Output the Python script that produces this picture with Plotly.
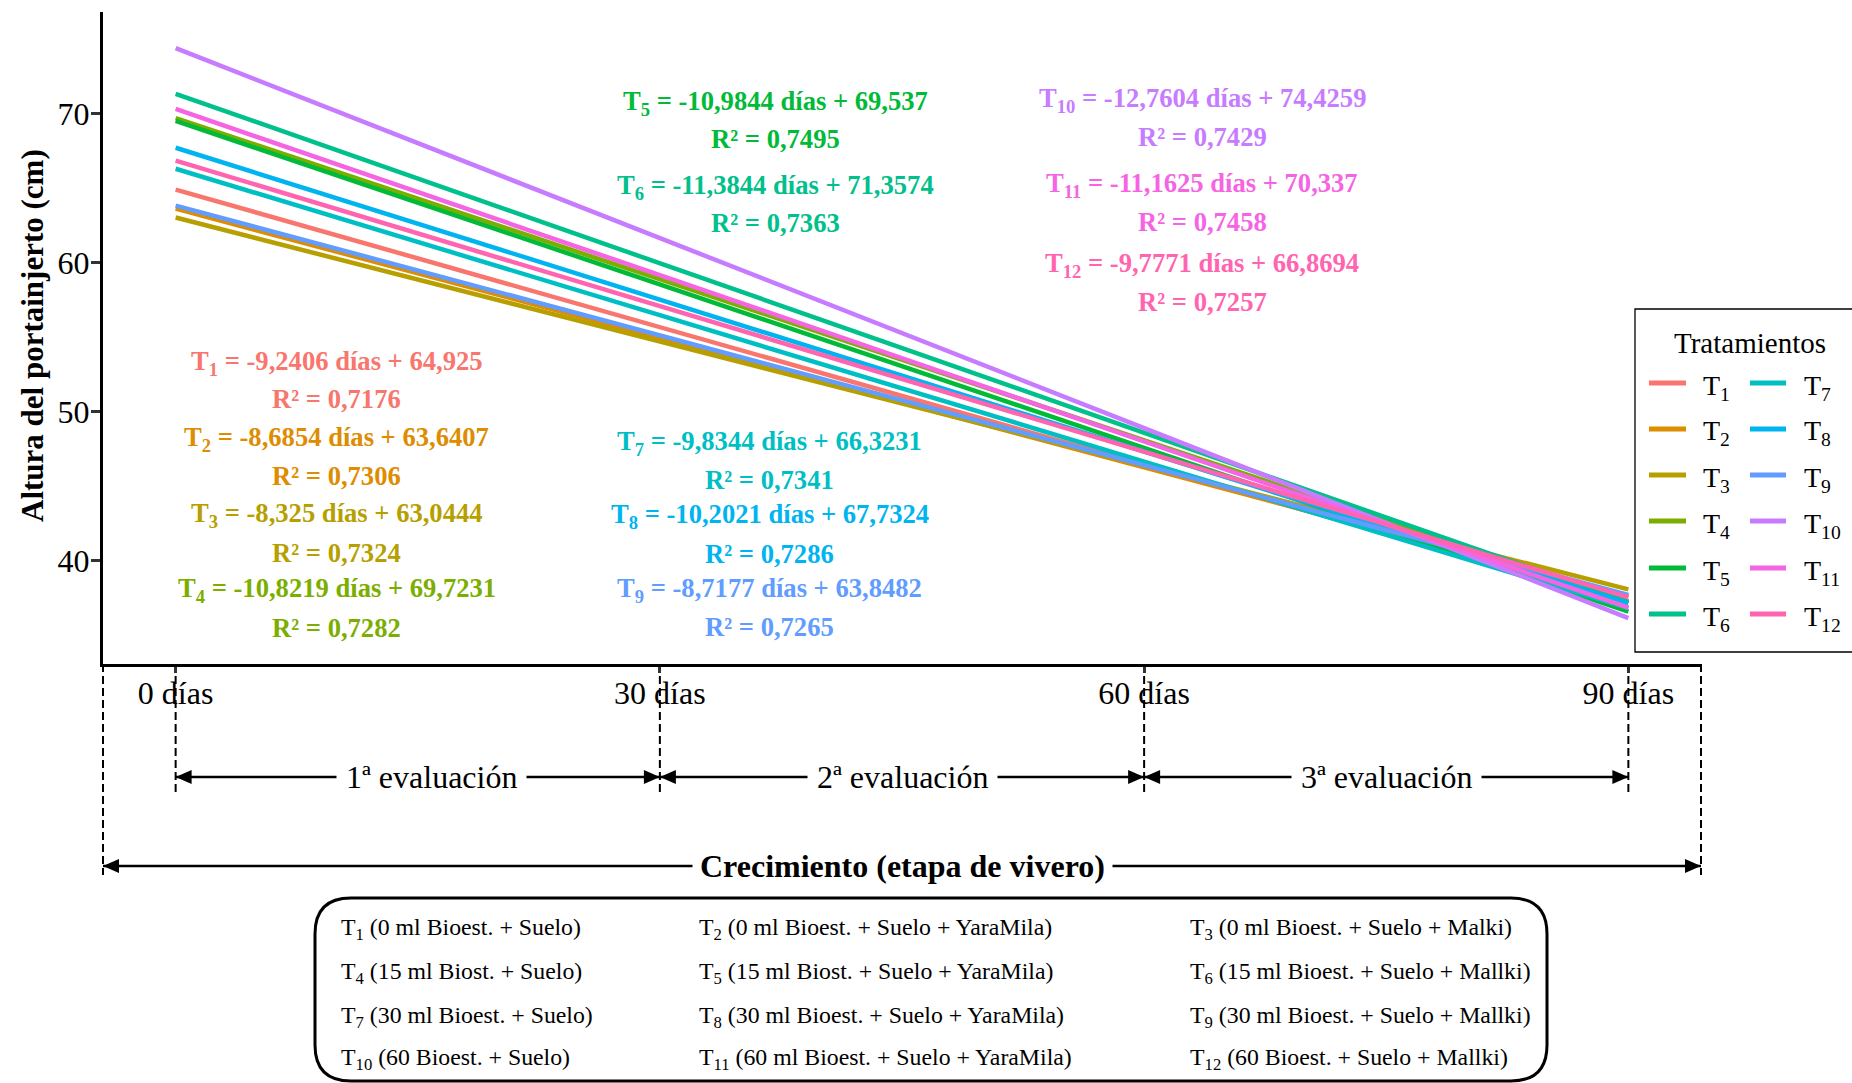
import plotly.graph_objects as go

# ---------------- data ----------------
treatment_ids = [1, 2, 3, 4, 5, 6, 7, 8, 9, 10, 11, 12]
slopes = [-9.2406, -8.6854, -8.325, -10.8219, -10.9844, -11.3844,
          -9.8344, -10.2021, -8.7177, -12.7604, -11.1625, -9.7771]
intercepts = [64.925, 63.6407, 63.0444, 69.7231, 69.537, 71.3574,
              66.3231, 67.7324, 63.8482, 74.4259, 70.337, 66.8694]
r_squared = [0.7176, 0.7306, 0.7324, 0.7282, 0.7495, 0.7363,
             0.7341, 0.7286, 0.7265, 0.7429, 0.7458, 0.7257]
eval_x = [0, 1, 2, 3]
tick_labels = ["0 días", "30 días", "60 días", "90 días"]
y_ticks = [40, 50, 60, 70]
eval_labels = ["1ª evaluación", "2ª evaluación", "3ª evaluación"]
descriptions = [
    "(0 ml Bioest. + Suelo)", "(0 ml Bioest. + Suelo + YaraMila)", "(0 ml Bioest. + Suelo + Malki)",
    "(15 ml Biost. + Suelo)", "(15 ml Biost. + Suelo + YaraMila)", "(15 ml Bioest. + Suelo + Mallki)",
    "(30 ml Bioest. + Suelo)", "(30 ml Bioest. + Suelo + YaraMila)", "(30 ml Bioest. + Suelo + Mallki)",
    "(60 Bioest. + Suelo)", "(60 ml Bioest. + Suelo + YaraMila)", "(60 Bioest. + Suelo + Mallki)",
]

# ---------------- styling ----------------
colors = ["#F8766D", "#DE8C00", "#B79F00", "#7CAE00", "#00BA38", "#00C08B",
          "#00BFC4", "#00B4F0", "#619CFF", "#C77CFF", "#F564E3", "#FF64B0"]
SERIF = "Liberation Serif"

W, H = 1852, 1083
L, R, T, B = 103, 1701, 12, 664          # plot area in pixels
x_range = [-0.15, 3.15]
y_range = [33.06, 76.85]


def xp(px):
    return (px - L) / (R - L)


def yp(py):
    return (B - py) / (B - T)


def x_to_px(x):
    return L + (x - x_range[0]) / (x_range[1] - x_range[0]) * (R - L)


def fmt(v):
    return repr(v).replace(".", ",")


fig = go.Figure()

# regression lines
for i, tid in enumerate(treatment_ids):
    fig.add_trace(go.Scatter(
        x=eval_x,
        y=[slopes[i] * x + intercepts[i] for x in eval_x],
        mode="lines",
        line=dict(color=colors[i], width=4.5),
        name=f"T{tid}",
        showlegend=False,
        hoverinfo="skip",
    ))

annotations = []
shapes = []

# equation labels (x, y of equation line, y of R² line) in data units
label_pos = [
    (0.3325, 53.30, 50.86), (0.3325, 48.17, 45.69), (0.3325, 43.07, 40.52), (0.3325, 38.00, 35.48),
    (1.238, 70.75, 68.29), (1.238, 65.12, 62.68),
    (1.2265, 47.90, 45.45), (1.2265, 43.00, 40.45), (1.2265, 38.00, 35.55),
    (2.12, 70.94, 68.45), (2.12, 65.21, 62.75), (2.12, 59.89, 57.37),
]
for i, tid in enumerate(treatment_ids):
    lx, ly_eq, ly_r2 = label_pos[i]
    font = dict(family=SERIF, size=26.6, color=colors[i], weight="bold")
    annotations.append(dict(
        x=lx, y=ly_eq, xref="x", yref="y", showarrow=False,
        text=f"T<sub>{tid}</sub> = {fmt(slopes[i])} días + {fmt(intercepts[i])}",
        font=font, xanchor="center", yanchor="middle"))
    annotations.append(dict(
        x=lx, y=ly_r2, xref="x", yref="y", showarrow=False,
        text=f"R² = {fmt(r_squared[i])}",
        font=font, xanchor="center", yanchor="middle"))

# y-axis title
annotations.append(dict(
    x=xp(32), y=yp(336), xref="paper", yref="paper", showarrow=False,
    text="Altura del portainjerto (cm)", textangle=-90,
    font=dict(family=SERIF, size=31, color="black", weight="bold"),
    xanchor="center", yanchor="middle"))

DASH = dict(color="black", width=2, dash="8px,4px")


def vline(px, y_top, y_bot):
    shapes.append(dict(type="line", xref="paper", yref="paper",
                       x0=xp(px), x1=xp(px), y0=yp(y_top), y1=yp(y_bot),
                       line=DASH, layer="below"))


def arrow_head(tip_px, y_px, direction, length=16, half=7):
    base = tip_px - direction * length
    path = (f"M {xp(tip_px)},{yp(y_px)} L {xp(base)},{yp(y_px - half)} "
            f"L {xp(base)},{yp(y_px + half)} Z")
    shapes.append(dict(type="path", xref="paper", yref="paper", path=path,
                       fillcolor="black", line=dict(width=0)))


def double_arrow(x0_px, x1_px, y_px, width=2.5):
    shapes.append(dict(type="line", xref="paper", yref="paper",
                       x0=xp(x0_px), x1=xp(x1_px), y0=yp(y_px), y1=yp(y_px),
                       line=dict(color="black", width=width)))
    arrow_head(x0_px, y_px, -1)
    arrow_head(x1_px, y_px, 1)


# dashed guides under the time axis
tick_px = [x_to_px(v) for v in eval_x]
for px in tick_px:
    vline(px, B, 796)
vline(L, B, 875)
vline(R, B, 875)

# evaluation periods
EVAL_Y = 777
eval_text_x = [431, 902, 1386]
for k, lab in enumerate(eval_labels):
    double_arrow(tick_px[k], tick_px[k + 1], EVAL_Y)
for k, lab in enumerate(eval_labels):
    annotations.append(dict(
        x=xp(eval_text_x[k]), y=yp(EVAL_Y), xref="paper", yref="paper", showarrow=False,
        text=lab, font=dict(family=SERIF, size=32, color="black"),
        bgcolor="white", borderpad=9, xanchor="center", yanchor="middle"))

# overall growth stage
GROW_Y = 866
double_arrow(L, R, GROW_Y)
annotations.append(dict(
    x=xp((L + R) / 2), y=yp(GROW_Y), xref="paper", yref="paper", showarrow=False,
    text="Crecimiento (etapa de vivero)",
    font=dict(family=SERIF, size=32, color="black", weight="bold"),
    bgcolor="white", borderpad=7, xanchor="center", yanchor="middle"))

# rounded box with treatment descriptions
bx0, bx1, by0, by1, rad = 315, 1547, 898, 1081, 36
box_path = (
    f"M {xp(bx0 + rad)},{yp(by0)} L {xp(bx1 - rad)},{yp(by0)} "
    f"Q {xp(bx1)},{yp(by0)} {xp(bx1)},{yp(by0 + rad)} "
    f"L {xp(bx1)},{yp(by1 - rad)} "
    f"Q {xp(bx1)},{yp(by1)} {xp(bx1 - rad)},{yp(by1)} "
    f"L {xp(bx0 + rad)},{yp(by1)} "
    f"Q {xp(bx0)},{yp(by1)} {xp(bx0)},{yp(by1 - rad)} "
    f"L {xp(bx0)},{yp(by0 + rad)} "
    f"Q {xp(bx0)},{yp(by0)} {xp(bx0 + rad)},{yp(by0)} Z"
)
shapes.append(dict(type="path", xref="paper", yref="paper", path=box_path,
                   line=dict(color="black", width=3), fillcolor="rgba(0,0,0,0)"))
col_x = [339, 697, 1188]
row_y = [929, 973, 1017, 1059]
for i, tid in enumerate(treatment_ids):
    r, c = divmod(i, 3)
    annotations.append(dict(
        x=xp(col_x[c]), y=yp(row_y[r]), xref="paper", yref="paper", showarrow=False,
        text=f"T<sub>{tid}</sub> {descriptions[i]}",
        font=dict(family=SERIF, size=23.8, color="black"),
        xanchor="left", yanchor="middle"))

# legend panel
shapes.append(dict(type="rect", xref="paper", yref="paper",
                   x0=xp(1635), x1=xp(1870), y0=yp(309), y1=yp(652),
                   line=dict(color="black", width=1.3), fillcolor="white", layer="above"))
annotations.append(dict(
    x=xp(1750), y=yp(343), xref="paper", yref="paper", showarrow=False,
    text="Tratamientos", font=dict(family=SERIF, size=29, color="black"),
    xanchor="center", yanchor="middle"))
leg_rows = [383, 429, 475, 521, 568, 614]
leg_key_x = [(1649, 1686), (1750, 1786)]
leg_text_x = [1701, 1802]
for i, tid in enumerate(treatment_ids):
    c, r = divmod(i, 6)
    k0, k1 = leg_key_x[c]
    shapes.append(dict(type="line", xref="paper", yref="paper",
                       x0=xp(k0), x1=xp(k1), y0=yp(leg_rows[r]), y1=yp(leg_rows[r]),
                       line=dict(color=colors[i], width=5), layer="above"))
    annotations.append(dict(
        x=xp(leg_text_x[c]), y=yp(leg_rows[r] + 4), xref="paper", yref="paper", showarrow=False,
        text=f"T<sub>{tid}</sub>", font=dict(family=SERIF, size=28, color="black"),
        xanchor="left", yanchor="middle"))

fig.update_layout(
    width=W, height=H,
    margin=dict(l=L, r=W - R, t=T, b=H - B, pad=0),
    paper_bgcolor="white", plot_bgcolor="white",
    showlegend=False,
    annotations=annotations,
    shapes=shapes,
    xaxis=dict(
        range=x_range, tickvals=eval_x, ticktext=tick_labels,
        showgrid=False, zeroline=False, showline=True, linecolor="black", linewidth=3,
        ticks="outside", ticklen=6, tickwidth=2.5, tickcolor="#333333",
        ticklabelstandoff=-7,
        tickfont=dict(family=SERIF, size=32, color="black"), automargin=False,
    ),
    yaxis=dict(
        range=y_range, tickvals=y_ticks,
        showgrid=False, zeroline=False, showline=True, linecolor="black", linewidth=3,
        ticks="outside", ticklen=9, tickwidth=2.5, tickcolor="#333333",
        ticklabelstandoff=-5,
        tickfont=dict(family=SERIF, size=32, color="black"), automargin=False,
    ),
)

fig.write_html("out.html")
